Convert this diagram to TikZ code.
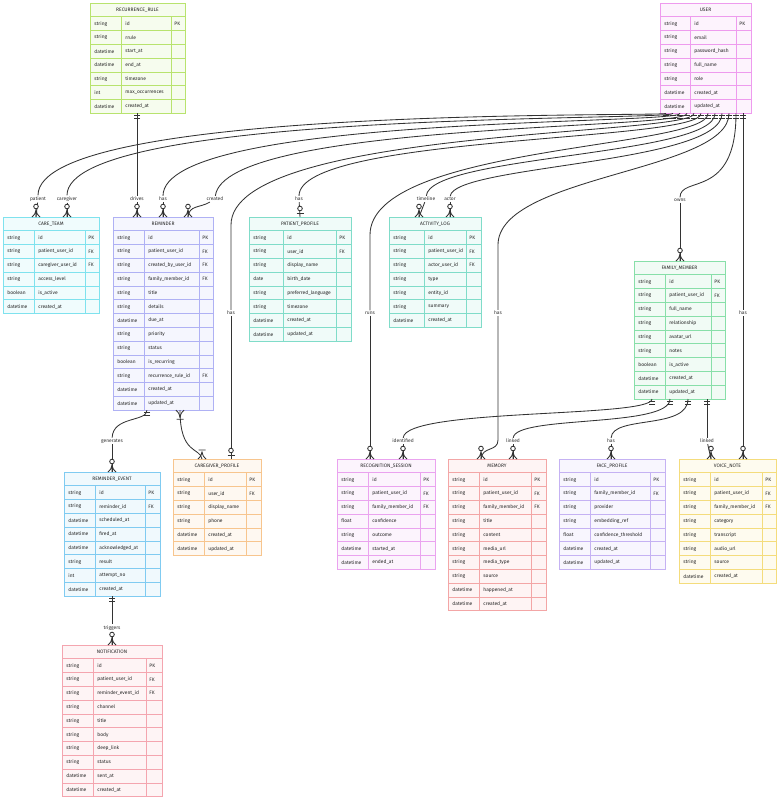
\documentclass[tikz,border=0pt]{standalone}
\usepackage{fontspec}
\setmainfont{Fira Sans}

\definecolor{rrcol}{HTML}{B8E36E}
\definecolor{usercol}{HTML}{EE9BEE}
\definecolor{ctcol}{HTML}{7FE2EE}
\definecolor{remcol}{HTML}{AFB1F4}
\definecolor{tealcol}{HTML}{80DCC9}
\definecolor{fmcol}{HTML}{88DFA9}
\definecolor{evcol}{HTML}{80CBF1}
\definecolor{cgcol}{HTML}{F7C58E}
\definecolor{ntcol}{HTML}{F4A5AF}
\definecolor{rscol}{HTML}{EAA3EF}
\definecolor{memcol}{HTML}{F3A6A6}
\definecolor{fpcol}{HTML}{C5B2F3}
\definecolor{vncol}{HTML}{F4DC7C}

\tikzset{
  erline/.style={draw=#1, fill=#1!12, line width=.8pt},
  erhead/.style={erline=#1, anchor=north west, minimum height=13.8, inner sep=0pt, outer sep=0pt,
    font=\fontsize{4.9}{5.5}\selectfont, text=black!85},
  ercell/.style={anchor=west, inner sep=0pt, font=\fontsize{4.9}{5.5}\selectfont, text=black!85},
  rel/.style={fill=white, inner sep=.8pt, font=\fontsize{4.9}{5.5}\selectfont, text=black!80},
  one/.pic={\draw (-3,-2.5) -- (3,-2.5) (-3,-5.5) -- (3,-5.5);},
  zone/.pic={\draw (-3.5,-4) -- (3.5,-4); \draw[fill=white] (0,-8.5) circle (2.3);},
  zmany/.pic={\draw (0,0) -- (0,-8) (-4,0) .. controls (-1,-3) .. (0,-7.5) (4,0) .. controls (1,-3) .. (0,-7.5);
    \draw[fill=white] (0,-10.5) circle (2.3);},
  omany/.pic={\draw (-4,0) .. controls (-1,-3) .. (0,-7.5) (4,0) .. controls (1,-3) .. (0,-7.5) (-3.5,-9) -- (3.5,-9);},
}

% name, x, y, three column widths, colour, title, rows
\newcommand\erentity[9]{%
  \pgfmathsetmacro\erw{#4+#5+#6}%
  \node[erhead=#7, minimum width=\erw] (#1) at (#2,#3) {#8};
  \foreach \ertype/\erfield/\erkey [count=\i] in {#9} {%
    \pgfmathsetmacro\ery{#3+\i*13.8}%
    \draw[erline=#7] (#2,\ery) rectangle ++(#4,13.8) ++(0,-13.8) rectangle ++(#5,13.8) ++(0,-13.8) rectangle ++(#6,13.8);
    \node[ercell] (#1-a\i) at (#2+4,\ery+6.9) {\ertype};
    \node[ercell] (#1-b\i) at (#2+#4+4,\ery+6.9) {\erfield};
    \node[ercell] (#1-c\i) at (#2+#4+#5+3,\ery+6.9) {\erkey};
  }%
}

\begin{document}
\begin{tikzpicture}[x=1pt, y=-1pt, color=black!80, line width=.85pt]
  \useasboundingbox (0,0) rectangle (779,800);

  \erentity{rrule}{90}{3}{31}{50}{14}{rrcol}{RECURRENCE\_RULE}{string/id/PK, string/rrule/{}, datetime/start\_at/{}, datetime/end\_at/{}, string/timezone/{}, int/max\_occurrences/{}, datetime/created\_at/{}}
  \erentity{user}{660}{3}{30}{46}{15}{usercol}{USER}{string/id/PK, string/email/{}, string/password\_hash/{}, string/full\_name/{}, string/role/{}, datetime/created\_at/{}, datetime/updated\_at/{}}
  \erentity{careteam}{3}{217}{31}{51}{14}{ctcol}{CARE\_TEAM}{string/id/PK, string/patient\_user\_id/FK, string/caregiver\_user\_id/FK, string/access\_level/{}, boolean/is\_active/{}, datetime/created\_at/{}}
  \erentity{reminder}{113}{217}{31}{55}{14}{remcol}{REMINDER}{string/id/PK, string/patient\_user\_id/FK, string/created\_by\_user\_id/FK, string/family\_member\_id/FK, string/title/{}, string/details/{}, datetime/due\_at/{}, string/priority/{}, string/status/{}, boolean/is\_recurring/{}, string/recurrence\_rule\_id/FK, datetime/created\_at/{}, datetime/updated\_at/{}}
  \erentity{patientprofile}{249}{217}{34}{53}{15}{tealcol}{PATIENT\_PROFILE}{string/id/PK, string/user\_id/FK, string/display\_name/{}, date/birth\_date/{}, string/preferred\_language/{}, string/timezone/{}, datetime/created\_at/{}, datetime/updated\_at/{}}
  \erentity{activitylog}{389}{217}{35}{42}{15}{tealcol}{ACTIVITY\_LOG}{string/id/PK, string/patient\_user\_id/FK, string/actor\_user\_id/FK, string/type/{}, string/entity\_id/{}, string/summary/{}, datetime/created\_at/{}}
  \erentity{familymember}{634}{261}{31}{46}{14}{fmcol}{FAMILY\_MEMBER}{string/id/PK, string/patient\_user\_id/FK, string/full\_name/{}, string/relationship/{}, string/avatar\_url/{}, string/notes/{}, boolean/is\_active/{}, datetime/created\_at/{}, datetime/updated\_at/{}}
  \erentity{reminderevent}{64}{472}{31}{50}{15}{evcol}{REMINDER\_EVENT}{string/id/PK, string/reminder\_id/FK, datetime/scheduled\_at/{}, datetime/fired\_at/{}, datetime/acknowledged\_at/{}, string/result/{}, int/attempt\_no/{}, datetime/created\_at/{}}
  \erentity{caregiverprofile}{173}{459}{31}{42}{15}{cgcol}{CAREGIVER\_PROFILE}{string/id/PK, string/user\_id/FK, string/display\_name/{}, string/phone/{}, datetime/created\_at/{}, datetime/updated\_at/{}}
  \erentity{notification}{62}{645}{31}{53}{16}{ntcol}{NOTIFICATION}{string/id/PK, string/patient\_user\_id/FK, string/reminder\_event\_id/FK, string/channel/{}, string/title/{}, string/body/{}, string/deep\_link/{}, string/status/{}, datetime/sent\_at/{}, datetime/created\_at/{}}
  \erentity{recognition}{337}{459}{31}{52}{15}{rscol}{RECOGNITION\_SESSION}{string/id/PK, string/patient\_user\_id/FK, string/family\_member\_id/FK, float/confidence/{}, string/outcome/{}, datetime/started\_at/{}, datetime/ended\_at/{}}
  \erentity{memory}{448}{459}{31}{52}{15}{memcol}{MEMORY}{string/id/PK, string/patient\_user\_id/FK, string/family\_member\_id/FK, string/title/{}, string/content/{}, string/media\_url/{}, string/media\_type/{}, string/source/{}, datetime/happened\_at/{}, datetime/created\_at/{}}
  \erentity{faceprofile}{559}{459}{31}{60}{15}{fpcol}{FACE\_PROFILE}{string/id/PK, string/family\_member\_id/FK, string/provider/{}, string/embedding\_ref/{}, float/confidence\_threshold/{}, datetime/created\_at/{}, datetime/updated\_at/{}}
  \erentity{voicenote}{679}{459}{31}{52}{14}{vncol}{VOICE\_NOTE}{string/id/PK, string/patient\_user\_id/FK, string/family\_member\_id/FK, string/category/{}, string/transcript/{}, string/audio\_url/{}, string/source/{}, datetime/created\_at/{}}

  % attachment points
  \coordinate (u1) at (666,113.4);
  \coordinate (u2) at (673,113.4);
  \coordinate (u3) at (680,113.4);
  \coordinate (u4) at (687,113.4);
  \coordinate (u5) at (694,113.4);
  \coordinate (u6) at (701,113.4);
  \coordinate (u7) at (708,113.4);
  \coordinate (u8) at (715,113.4);
  \coordinate (u9) at (722,113.4);
  \coordinate (u10) at (729,113.4);
  \coordinate (u11) at (736,113.4);
  \coordinate (u12) at (743,113.4);
  \coordinate (rr1) at (137,113.4);
  \coordinate (ct1) at (36,217);
  \coordinate (ct2) at (67,217);
  \coordinate (rm1) at (137,217);
  \coordinate (rm2) at (163,217);
  \coordinate (rm3) at (188,217);
  \coordinate (pp1) at (300,217);
  \coordinate (al1) at (419,217);
  \coordinate (al2) at (450,217);
  \coordinate (fmt) at (680,261);
  \coordinate (r1) at (147,410.2);
  \coordinate (r2) at (180,410.2);
  \coordinate (fm1) at (652,399);
  \coordinate (fm2) at (670,399);
  \coordinate (fm3) at (688,399);
  \coordinate (fm4) at (707,399);
  \coordinate (cg1) at (202,459);
  \coordinate (cg2) at (231,459);
  \coordinate (rs1) at (370,459);
  \coordinate (rs2) at (403,459);
  \coordinate (mem1) at (481,459);
  \coordinate (mem2) at (513,459);
  \coordinate (fp1) at (611,459);
  \coordinate (vn1) at (711,459);
  \coordinate (vn2) at (743,459);
  \coordinate (ev1) at (112,472);
  \coordinate (ev2) at (112,596.2);
  \coordinate (nt1) at (112,645);

  % relation labels
  \node[rel] (l1) at (38,199) {patient};
  \node[rel] (l2) at (67,199) {caregiver};
  \node[rel] (l3) at (163,199) {has};
  \node[rel] (l4) at (215,199) {created};
  \node[rel] (l5) at (231,313) {has};
  \node[rel] (l6) at (299,199) {has};
  \node[rel] (l7) at (370,313) {runs};
  \node[rel] (l8) at (426,199) {timeline};
  \node[rel] (l9) at (450,199) {actor};
  \node[rel] (l10) at (498,313) {has};
  \node[rel] (l11) at (680,200) {owns};
  \node[rel] (l12) at (743,313) {has};
  \node[rel] (l13) at (137,199) {drives};
  \node[rel] (l14) at (112,441) {generates};
  \node[rel] (l16) at (112,628) {triggers};
  \node[rel] (l17) at (403,441) {identified};
  \node[rel] (l18) at (513,441) {linked};
  \node[rel] (l19) at (611,441) {has};
  \node[rel] (l20) at (707,441) {linked};

  % USER relations
  \draw (u1) .. controls (666,117) and (38,105) .. (l1);
  \draw (l1) -- (ct1);
  \draw (u2) .. controls (673,121) and (67,110) .. (l2);
  \draw (l2) -- (ct2);
  \draw (u3) .. controls (680,125) and (163,115) .. (l3);
  \draw (l3) -- (rm2);
  \draw (u4) .. controls (687,130) and (224,122) .. (l4);
  \draw (l4) .. controls (200,208) and (189,205) .. (rm3);
  \draw (u5) .. controls (694,136) and (231,128) .. (231,225) -- (l5);
  \draw (l5) -- (cg2);
  \draw (u6) .. controls (701,142) and (299,135) .. (l6);
  \draw (l6) -- (pp1);
  \draw (u7) .. controls (708,149) and (370,145) .. (370,235) -- (l7);
  \draw (l7) -- (rs1);
  \draw (u8) .. controls (715,156) and (430,155) .. (l8);
  \draw (l8) -- (al1);
  \draw (u9) .. controls (722,164) and (453,165) .. (l9);
  \draw (l9) -- (al2);
  \draw (u10) .. controls (729,172) and (498,175) .. (498,245) -- (l10);
  \draw (l10) -- (498,440) .. controls (498,452) and (482,446) .. (mem1);
  \draw (u11) .. controls (736,200) and (680,175) .. (l11);
  \draw (l11) -- (fmt);
  \draw (u12) -- (l12);
  \draw (l12) -- (vn2);

  % other relations
  \draw (rr1) -- (l13);
  \draw (l13) -- (rm1);
  \draw (r1) .. controls (147,422) and (113,416) .. (l14);
  \draw (l14) -- (ev1);
  \draw (r2) .. controls (180,455) and (200,447) .. (cg1);
  \draw (ev2) -- (l16);
  \draw (l16) -- (nt1);
  \draw (fm1) .. controls (652,418) and (405,408) .. (l17);
  \draw (l17) -- (rs2);
  \draw (fm2) .. controls (670,428) and (515,415) .. (l18);
  \draw (l18) -- (mem2);
  \draw (fm3) .. controls (688,430) and (612,415) .. (l19);
  \draw (l19) -- (fp1);
  \draw (fm4) -- (l20);
  \draw (l20) -- (vn1);

  % cardinality marks
  \pic[rotate=180] at (u1) {one};
  \pic[rotate=180] at (u2) {one};
  \pic[rotate=180] at (u3) {one};
  \pic[rotate=180] at (u4) {one};
  \pic[rotate=180] at (u5) {one};
  \pic[rotate=180] at (u6) {one};
  \pic[rotate=180] at (u7) {one};
  \pic[rotate=180] at (u8) {one};
  \pic[rotate=180] at (u9) {one};
  \pic[rotate=180] at (u10) {one};
  \pic[rotate=180] at (u11) {one};
  \pic[rotate=180] at (u12) {one};
  \pic[rotate=180] at (rr1) {one};
  \pic[rotate=180] at (r1) {one};
  \pic[rotate=180] at (ev2) {one};
  \pic[rotate=180] at (fm1) {one};
  \pic[rotate=180] at (fm2) {one};
  \pic[rotate=180] at (fm3) {one};
  \pic[rotate=180] at (fm4) {one};
  \pic[rotate=180] at (r2) {omany};
  \pic at (cg1) {omany};
  \pic at (pp1) {zone};
  \pic at (cg2) {zone};
  \pic at (ct1) {zmany};
  \pic at (ct2) {zmany};
  \pic at (rm1) {zmany};
  \pic at (rm2) {zmany};
  \pic at (rm3) {zmany};
  \pic at (al1) {zmany};
  \pic at (al2) {zmany};
  \pic at (fmt) {zmany};
  \pic at (ev1) {zmany};
  \pic at (nt1) {zmany};
  \pic at (rs1) {zmany};
  \pic at (rs2) {zmany};
  \pic at (mem1) {zmany};
  \pic at (mem2) {zmany};
  \pic at (fp1) {zmany};
  \pic at (vn1) {zmany};
  \pic at (vn2) {zmany};
\end{tikzpicture}
\end{document}
